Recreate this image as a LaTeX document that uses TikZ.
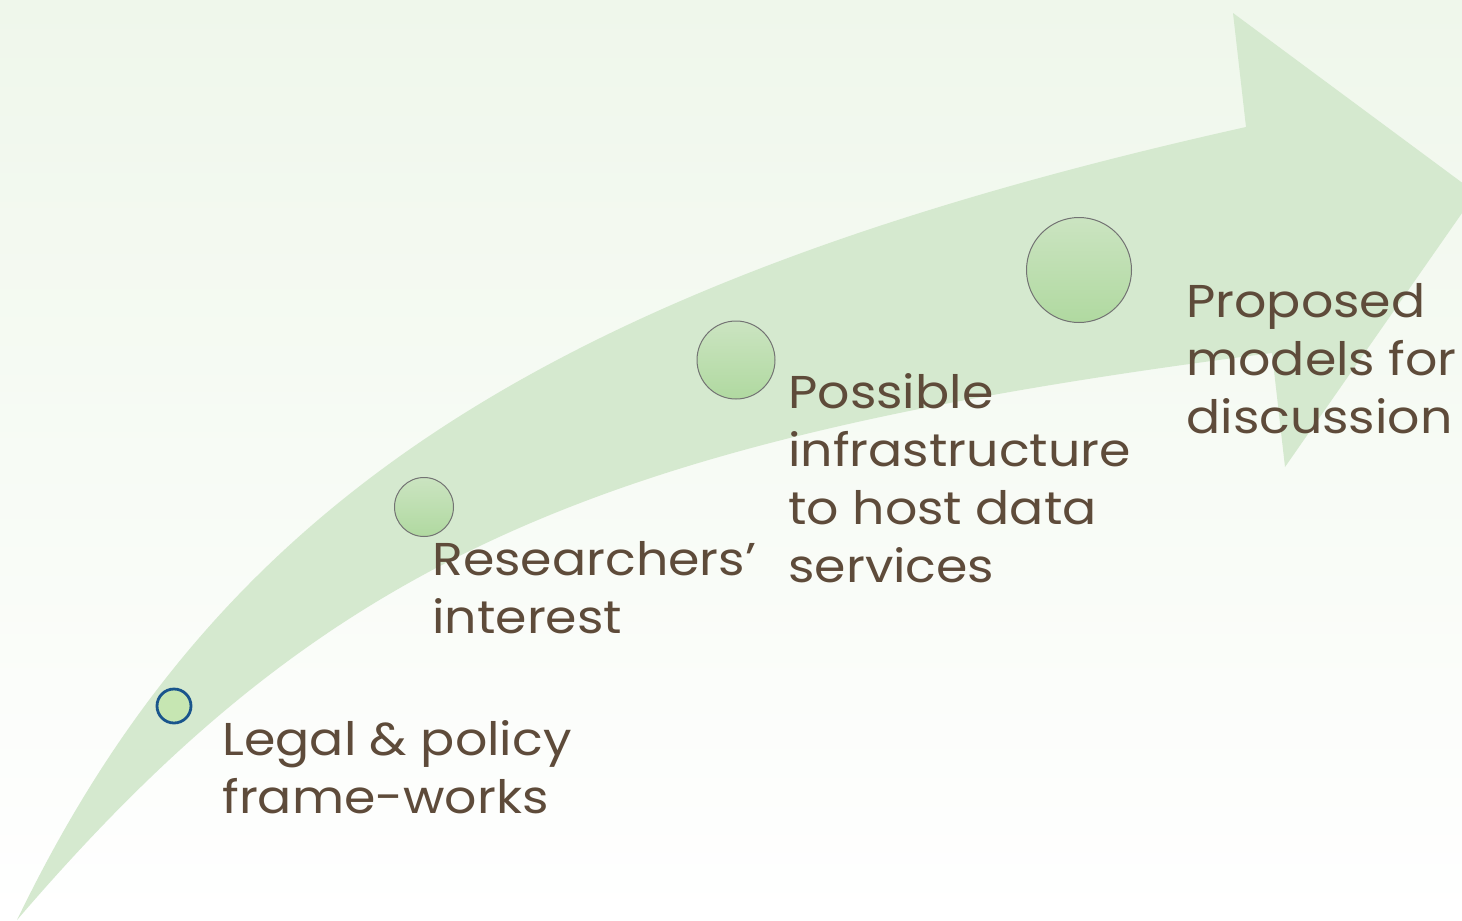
\documentclass[tikz,border=0pt]{standalone}
\usepackage{fontspec}
\setmainfont{Poppins}[FakeStretch=1.1]
\definecolor{bgtop}{RGB}{239,247,235}
\definecolor{arrowgreen}{RGB}{213,233,207}
\definecolor{dottop}{RGB}{203,228,193}
\definecolor{dotbot}{RGB}{176,217,160}
\definecolor{firstdot}{RGB}{198,230,178}
\definecolor{textbrown}{RGB}{94,75,58}
\definecolor{ringblue}{RGB}{25,85,140}

\begin{document}
\begin{tikzpicture}[x=0.5pt, y=-0.5pt,
  dot/.style={circle, draw=black!55, line width=0.5pt, top color=dottop, bottom color=dotbot, inner sep=0pt},
  lbl/.style={anchor=base west, align=left, inner sep=0pt, text=textbrown, font=\fontsize{23}{29}\selectfont}]
\useasboundingbox (0,0) rectangle (1462,921);
\clip (0,0) rectangle (1462,921);
\shade [top color=bgtop, bottom color=white] (0,0) rectangle (1462,921);
% the bent arrow
\fill [arrowgreen]
(17,920) .. controls (214,512) and (533,286) .. (1246,127)
-- (1233,13) -- (1476,193) -- (1285,467) -- (1272,353)
.. controls (592,440) and (326,560) .. (17,920) -- cycle;
% dots
\node [circle, inner sep=0pt, draw=ringblue, line width=1.4pt, fill=firstdot, minimum size=17pt] (dot1) at (174,706) {};
\node [dot, minimum size=29.5pt] (dot2) at (424,507) {};
\node [dot, minimum size=39pt] (dot3) at (736,360) {};
\node [dot, minimum size=52.5pt] (dot4) at (1079,270) {};
% labels (base = last line)
\node [lbl] (lab1) at (222,813) {Legal \& policy\\frame-works};
\node [lbl] (lab2) at (432,633) {Researchers’\\interest};
\node [lbl] (lab3) at (788,582) {Possible\\infrastructure\\to host data\\services};
\node [lbl] (lab4) at (1186,433) {Proposed\\models for\\discussion};
\end{tikzpicture}
\end{document}
